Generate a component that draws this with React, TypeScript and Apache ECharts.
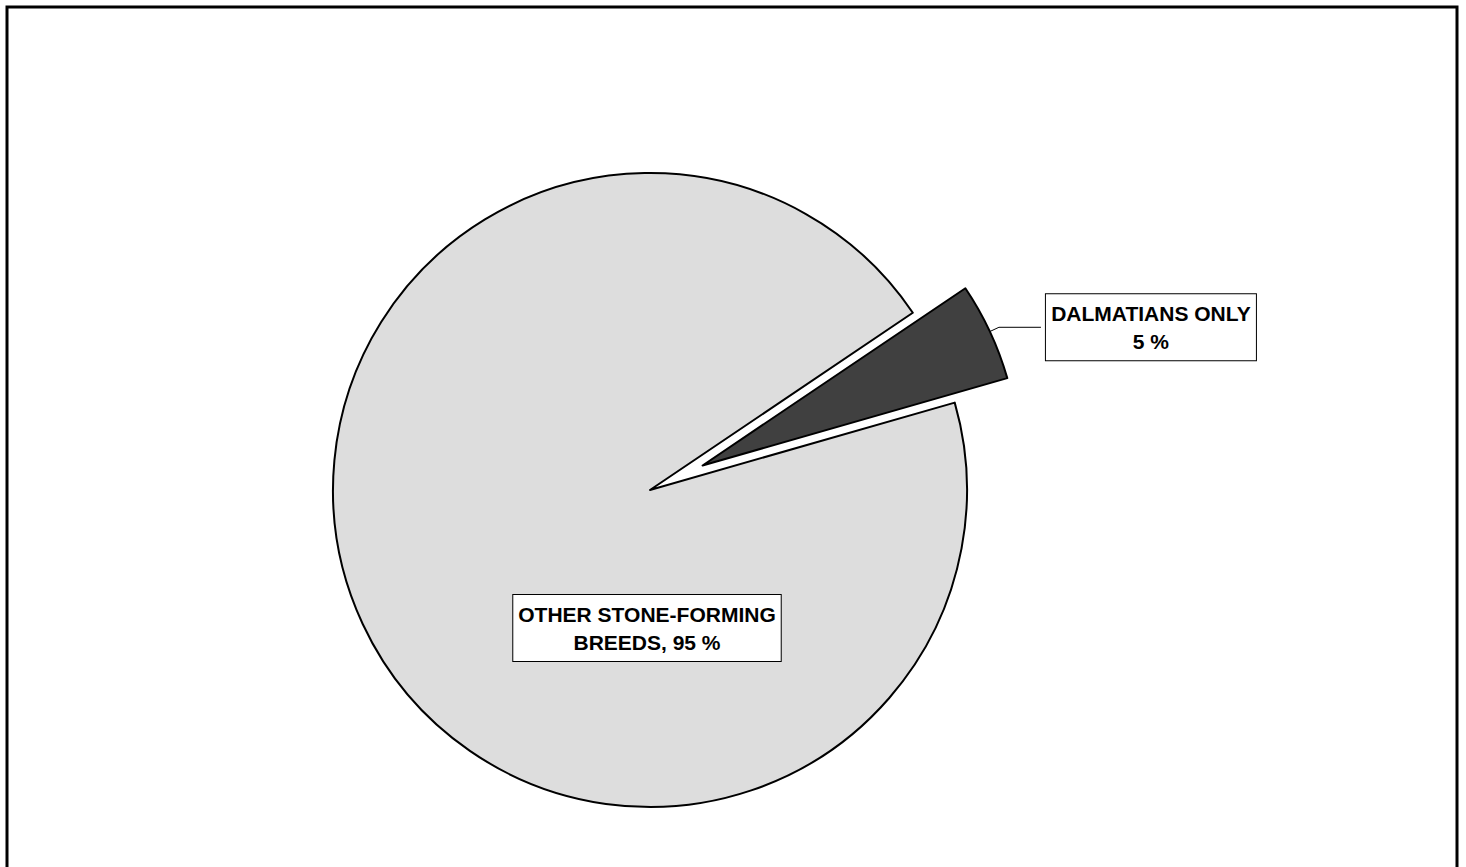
import React, { useEffect, useRef } from "react";
import * as echarts from "echarts";

const categories = ["DALMATIANS ONLY", "OTHER STONE-FORMING BREEDS"];
const values = [5, 95];
const labelTemplates = ["{t|DALMATIANS ONLY}\n{t|{c} %}", "OTHER STONE-FORMING\nBREEDS, {c} %"];
const sliceColors = ["#404040", "#dddddd"];

export default function App() {
  const ref = useRef<HTMLDivElement>(null);
  useEffect(() => {
    document.body.style.margin = "0";
    const chart = echarts.init(ref.current!, null, { renderer: "svg" });
    const font = {
      fontFamily: "Liberation Sans, Arial, sans-serif",
      fontWeight: "bold",
      fontSize: 21,
      lineHeight: 28,
      color: "#000",
    };
    const labelBase = {
      show: true,
      ...font,
      backgroundColor: "#fff",
      borderColor: "#000",
      borderWidth: 1,
      padding: [5, 5, 5, 5],
      align: "center",
      rich: { t: { ...font, width: 200, align: "center" } },
    };
    chart.setOption({
      animation: false,
      backgroundColor: "#fff",
      graphic: [
        {
          type: "rect",
          shape: { x: 7, y: 7, width: 1450, height: 880 },
          style: { fill: "none", stroke: "#000", lineWidth: 3 },
          silent: true,
        },
      ],
      series: [
        {
          type: "pie",
          center: [650, 490],
          radius: 317,
          startAngle: 34,
          clockwise: true,
          selectedMode: "single",
          selectedOffset: 58,
          avoidLabelOverlap: false,
          emphasis: { disabled: true },
          itemStyle: { borderColor: "#000", borderWidth: 2 },
          labelLayout: (params: any) => {
            if (params.dataIndex === 1) {
              return { x: 647, y: 628, align: "center", verticalAlign: "middle" };
            }
            return {};
          },
          data: categories.map((name, i) => ({
            name,
            value: values[i],
            selected: i === 0,
            itemStyle: { color: sliceColors[i] },
            select: { itemStyle: { color: sliceColors[i], borderColor: "#000", borderWidth: 2 } },
            label: {
              ...labelBase,
              position: i === 0 ? "outside" : "inside",
              formatter: labelTemplates[i],
            },
            labelLine: {
              show: i === 0,
              length: 10,
              length2: 42,
              smooth: false,
              lineStyle: { color: "#000", width: 1 },
            },
          })),
        },
      ],
    });
    return () => chart.dispose();
  }, []);
  return <div ref={ref} style={{ width: 1466, height: 867 }} />;
}
